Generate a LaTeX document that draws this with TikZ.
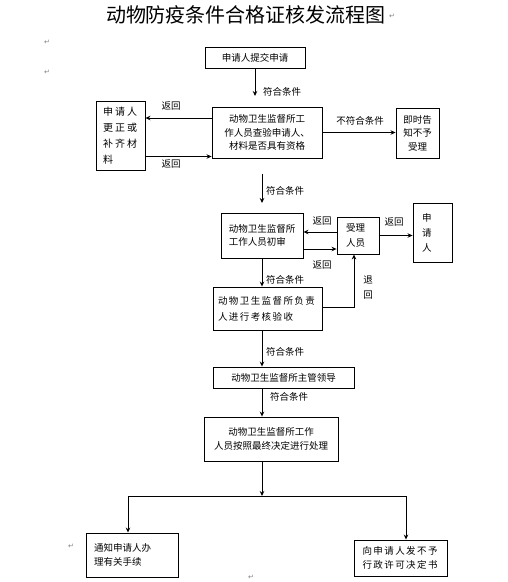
\documentclass[tikz,border=0pt]{standalone}
\usepackage{fontspec}
\usetikzlibrary{arrows.meta}
\newfontfamily\cjk{Noto Sans CJK SC}
\newfontfamily\cjkwa[LetterSpace=20]{Noto Sans CJK SC}
\newfontfamily\cjkwb[LetterSpace=15]{Noto Sans CJK SC}
\newfontfamily\markfont{DejaVu Sans}
\tikzset{
  box/.style={draw, line width=0.9pt, inner sep=0pt, align=center,
    font=\cjk\fontsize{9.5}{13.5}\selectfont},
  lbl/.style={inner sep=0pt, font=\cjk\fontsize{9.5}{11}\selectfont},
  arr/.style={line width=0.9pt, -{Stealth[length=5pt,width=4.5pt]}},
  ln/.style={line width=0.9pt},
  pmark/.style={inner sep=0pt, text=gray, font=\markfont\fontsize{7}{8}\selectfont}
}
\begin{document}
\begin{tikzpicture}[x=1pt,y=-1pt]
\useasboundingbox (0,0) rectangle (507,582);
% title
\node[inner sep=0pt, font=\cjk\fontsize{20}{22}\selectfont] (title) at (246,15) {动物防疫条件合格证核发流程图};
\node[pmark, anchor=west] (m0) at (389,16) {↵};
\node[pmark] (m1) at (47,42) {↵};
\node[pmark] (m2) at (47,72) {↵};
\node[pmark] (m3) at (71,546) {↵};
\node[pmark] (m4) at (251,577) {↵};
% boxes
\node[box, minimum width=100pt, minimum height=21pt] (b1) at (255,57.5) {申请人提交申请};
\node[box, minimum width=110pt, minimum height=51pt] (b2) at (267,132.5)
  {动物卫生监督所工\\作人员查验申请人、\\材料是否具有资格};
\node[box, text width=35pt, inner xsep=7pt, minimum height=69pt, align=left,
  font=\cjkwa\fontsize{10}{16}\selectfont] (bl) at (120.5,135.5)
  {申请人\\更正或\\补齐材\\料};
\node[box, minimum width=43pt, minimum height=50pt] (br) at (417.5,133)
  {即时告\\知不予\\受理};
\node[box, minimum width=82pt, minimum height=45pt, align=left] (b3) at (262,235.5)
  {动物卫生监督所\\工作人员初审};
\node[box, text width=24pt, inner xsep=9pt, minimum height=37pt, align=left,
  font=\cjk\fontsize{9.5}{15}\selectfont] (bs) at (358,235.5) {受理\\人员};
\node[box, text width=21pt, inner xsep=9pt, minimum height=59pt, align=left,
  font=\cjk\fontsize{9.5}{15}\selectfont] (ba) at (432.5,232.5) {申\\请\\人};
\node[box, text width=99pt, inner xsep=5pt, minimum height=43pt, align=left,
  font=\cjkwb\fontsize{9.5}{16}\selectfont] (b4) at (267.5,308.5)
  {动物卫生监督所负责\\人进行考核验收};
\node[box, minimum width=141pt, minimum height=21pt] (b5) at (283.5,377.5) {动物卫生监督所主管领导};
\node[box, minimum width=134pt, minimum height=44pt, font=\cjk\fontsize{9.5}{14}\selectfont] (b6) at (271,439)
  {动物卫生监督所工作\\人员按照最终决定进行处理};
\node[box, text width=76pt, inner xsep=8pt, minimum height=44pt, align=left,
  font=\cjk\fontsize{9.5}{14}\selectfont] (b7) at (132,555)
  {通知申请人办\\理有关手续};
\node[box, text width=76pt, inner xsep=8.5pt, minimum height=36pt, align=left,
  font=\cjkwb\fontsize{9.5}{14}\selectfont] (b8) at (400.5,558)
  {向申请人发不予\\行政许可决定书};
% coordinates
\coordinate (c1) at (255,96);
\coordinate (c2) at (262,174);
\coordinate (c3) at (262,203);
\coordinate (j) at (262,496);
\coordinate (jl) at (128,496);
\coordinate (jr) at (406,496);
% connectors
\draw[arr] (b1.south) -- (c1);
\draw[arr] ([yshift=14.5pt]b2.west) -- ([yshift=14.5pt]b2.west -| bl.east);
\draw[arr] ([yshift=-24pt]b2.west -| bl.east) -- ([yshift=-24pt]b2.west);
\draw[arr] (b2.east) -- (b2.east -| br.west);
\draw[arr] (c2) -- (c3);
\draw[arr] ([yshift=3.5pt]bs.west) -- ([yshift=3.5pt]bs.west -| b3.east);
\draw[arr] ([yshift=-13.5pt]b3.east) -- ([yshift=-13.5pt]b3.east -| bs.west);
\draw[arr] (bs.east) -- (bs.east -| ba.west);
\draw[arr] (b3.south) -- (b3.south |- b4.north);
\draw[arr] ([yshift=1.5pt]b4.east) -| ([xshift=-4pt]bs.south);
\draw[arr] (b4.south -| c2) -- (b5.north -| c2);
\draw[arr] (b5.south -| c2) -- (b6.north -| c2);
\draw[arr] (b6.south -| j) -- (j);
\draw[ln] (jl) -- (jr);
\draw[arr] (jl) -- (jl |- b7.north);
\draw[arr] (jr) -- (jr |- b8.north);
% labels
\node[lbl, anchor=west] (l1) at (263,92) {符合条件};
\node[lbl] (l2) at (171,106) {返回};
\node[lbl] (l3) at (171,164) {返回};
\node[lbl] (l4) at (360,121) {不符合条件};
\node[lbl, anchor=west] (l5) at (266,191) {符合条件};
\node[lbl] (l6) at (322,221) {返回};
\node[lbl] (l7) at (322,265) {返回};
\node[lbl] (l8) at (394,222) {返回};
\node[lbl] (l9) at (368,280) {退};
\node[lbl] (l10) at (368,295) {回};
\node[lbl, anchor=west] (l11) at (266,280) {符合条件};
\node[lbl, anchor=west] (l12) at (266,352) {符合条件};
\node[lbl, anchor=west] (l13) at (270,397) {符合条件};
\end{tikzpicture}
\end{document}
